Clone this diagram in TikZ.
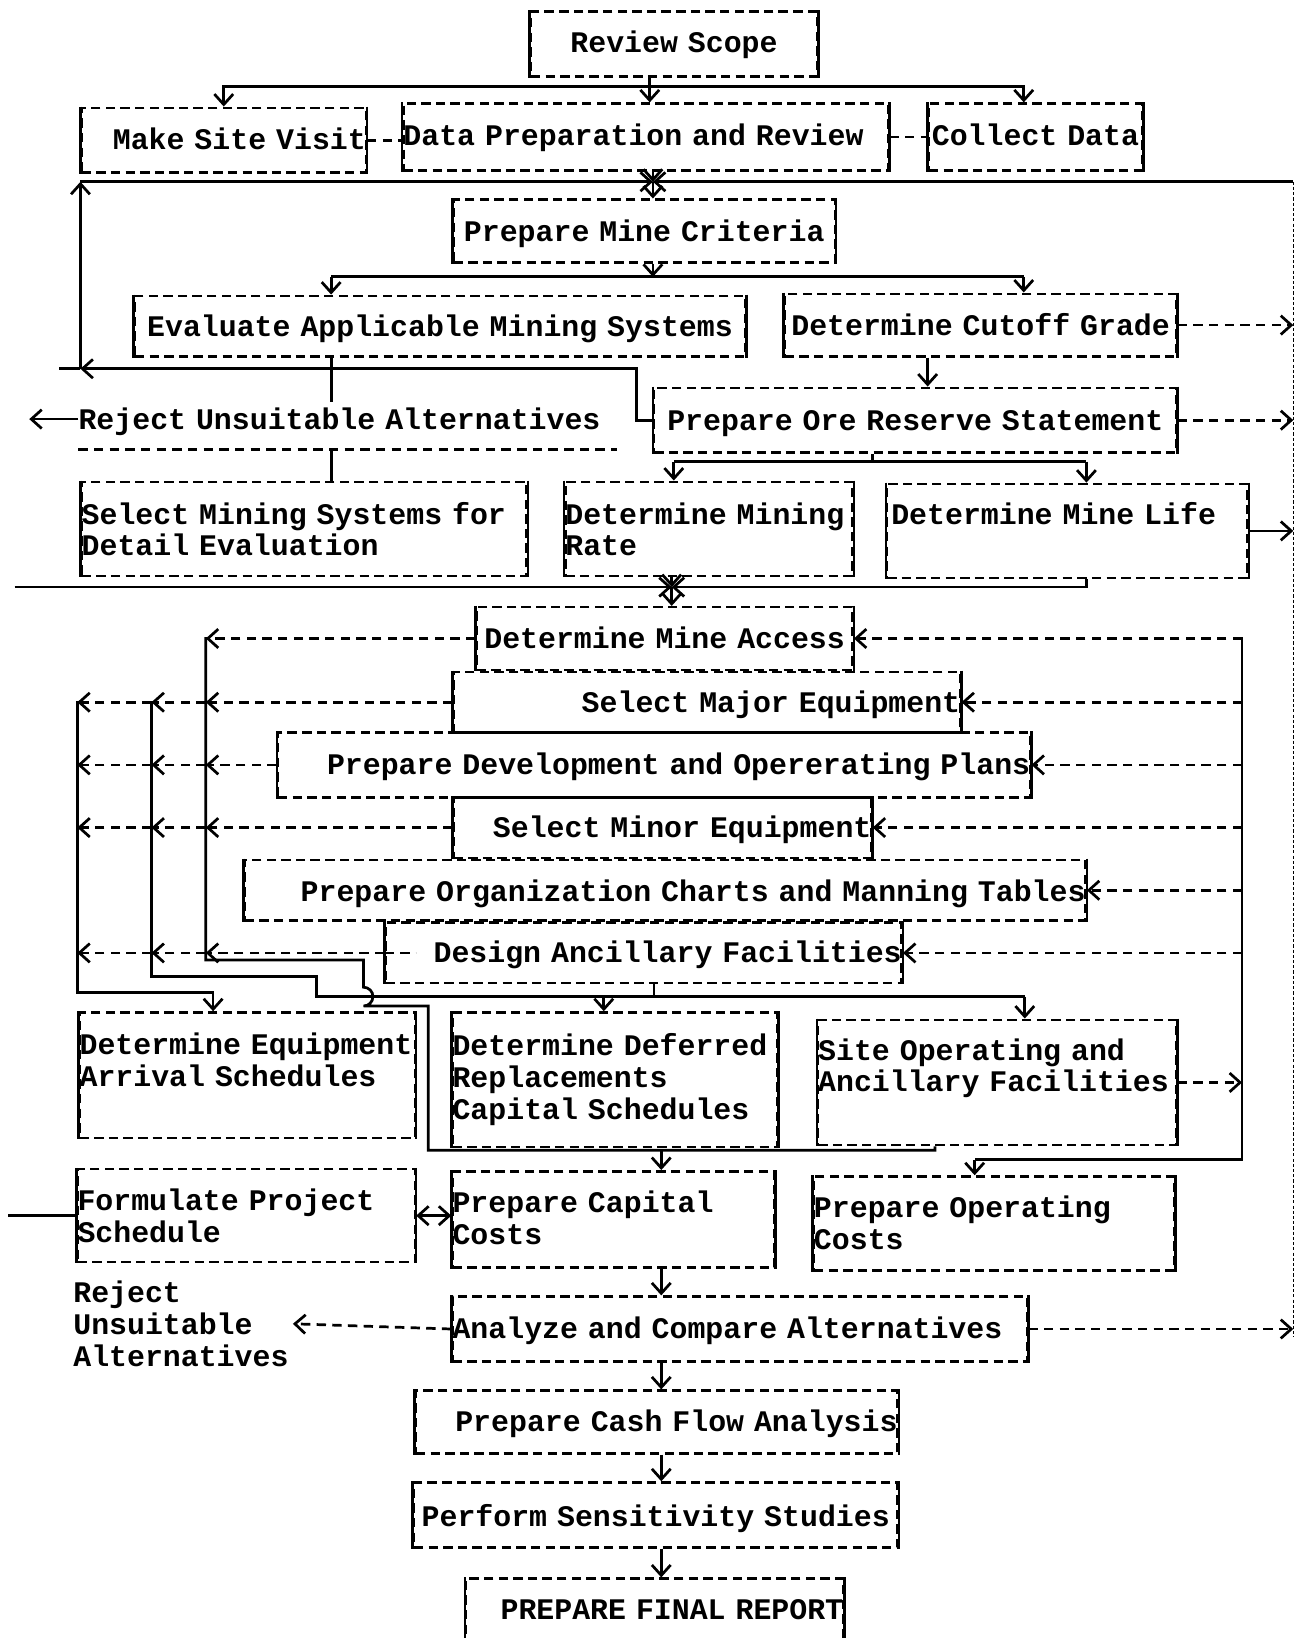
\documentclass[tikz,border=0pt]{standalone}
\usepackage{fontspec}
\newfontfamily\plotfont{Liberation Mono}
\usetikzlibrary{arrows.meta,calc,positioning}
\hyphenpenalty=10000
\exhyphenpenalty=10000

\tikzset{
  stepbox/.style n args={4}{draw, dashed, dash pattern=on 9pt off 5pt, line width=2.4pt,
    inner sep=0pt, anchor=north west, text width=#1pt, text height=#2pt, text depth=#3pt,
    align=#4, font=\plotfont\bfseries\fontsize{28.6}{30.5}\selectfont},
  plaintext/.style n args={4}{inner sep=0pt, anchor=north west, text width=#1pt,
    text height=#2pt, text depth=#3pt, align=#4, font=\plotfont\bfseries\fontsize{28.6}{30.5}\selectfont},
  side/.style={line width=2.4pt},
  link/.style={line width=2.6pt},
  dashlink/.style={link, dash pattern=on 9pt off 6pt},
  arr/.style={link, ->},
  darr/.style={dashlink, ->},
}

\begin{document}
\begin{tikzpicture}[x=1pt, y=-1pt, >={Straight Barb[length=10pt,width=18pt]}]
  \fill[white] (0,0) rectangle (1241,1568);
  \useasboundingbox (0,0) rectangle (1241,1568);

  % boxes
  \node[stepbox={274}{39.5}{22.5}{center}] (scope) at (507,10) {Review~Scope};
  \node[stepbox={272}{39.5}{22.5}{right}] (visit) at (77,102) {Make~Site~Visit};
  \node[stepbox={464}{40.5}{23.5}{left}] (prep) at (385,98) {Data~Preparation~and~Review};
  \node[stepbox={204}{40.5}{23.5}{center}] (collect) at (888,98) {Collect~Data};
  \node[stepbox={365}{39.5}{20.5}{center}] (crit) at (433,190) {Prepare~Mine~Criteria};
  \node[stepbox={584}{38.5}{19.5}{center}] (eval) at (128,282) {Evaluate~Applicable~Mining~Systems};
  \node[stepbox={375}{39.5}{20.5}{center}] (cutoff) at (750,280) {Determine~Cutoff~Grade};
  \node[plaintext={515}{38.5}{19.5}{left}] (rej1) at (75,372) {Reject~Unsuitable~Alternatives};
  \node[stepbox={500}{40.5}{21.5}{center}] (ore) at (625,370) {Prepare~Ore~Reserve~Statement};
  \node[stepbox={426}{40.5}{49.5}{left}] (select) at (77,460) {Select~Mining~Systems~for\\Detail~Evaluation};
  \node[stepbox={275}{40.5}{49.5}{left}] (rate) at (540,460) {Determine~Mining\\Rate};
  \node[stepbox={345}{38.5}{51.5}{left}] (life) at (848,462) {\hspace*{4pt}Determine~Mine~Life};
  \node[stepbox={360}{39.5}{20.5}{center}] (access) at (455,580) {Determine~Mine~Access};
  \node[stepbox={485}{38.5}{19.5}{right}] (major) at (433,642) {Select~Major~Equipment};
  \node[stepbox={720}{40.5}{21.5}{right}] (dev) at (265,700) {Prepare~Development~and~Opererating~Plans};
  \node[stepbox={400}{38.5}{19.5}{right}] (minor) at (433,762) {Select~Minor~Equipment};
  \node[stepbox={805}{39.5}{18.5}{right}] (org) at (233,822) {Prepare~Organization~Charts~and~Manning~Tables};
  \node[stepbox={494}{38.5}{19.5}{right}] (anc) at (368,882) {Design~Ancillary~Facilities};
  \node[stepbox={321}{40.5}{79.5}{left}] (arrive) at (75,968) {Determine~Equipment\\Arrival~Schedules};
  \node[stepbox={311}{41.5}{87.5}{left}] (defer) at (432,968) {Determine~Deferred\\Replacements\\Capital~Schedules};
  \node[stepbox={343}{38.5}{81.5}{left}] (site) at (782,975) {Site~Operating~and\\Ancillary~Facilities};
  \node[stepbox={323}{39.5}{49.5}{left}] (sched) at (73,1118) {Formulate~Project\\Schedule};
  \node[stepbox={308}{39.5}{52.5}{left}] (capcost) at (432,1120) {Prepare~Capital\\Costs};
  \node[stepbox={345}{39.5}{50.5}{left}] (opcost) at (778,1125) {Prepare~Operating\\Costs};
  \node[plaintext={210}{26.5}{67.5}{left}] (rej2) at (70,1220) {Reject\\Unsuitable\\Alternatives};
  \node[stepbox={550}{40.5}{21.5}{left}] (analyze) at (432,1240) {Analyze~and~Compare~Alternatives};
  \node[stepbox={461}{39.5}{20.5}{right}] (cash) at (397,1330) {Prepare~Cash~Flow~Analysis};
  \node[stepbox={463}{42.5}{19.5}{center}] (sens) at (395,1418) {Perform~Sensitivity~Studies};
  \node[stepbox={361}{39.5}{20.5}{right}] (report) at (445,1510) {PREPARE~FINAL~REPORT};

  \foreach \n in {scope,visit,prep,collect,crit,eval,cutoff,ore,select,rate,life,access,major,dev,minor,org,anc,arrive,defer,site,sched,capcost,opcost,analyze,cash,sens,report}
    \draw[side] (\n.north west) -- (\n.south west) (\n.north east) -- (\n.south east);
  \draw[dashlink] (rej1.south west) -- (rej1.south east);

  % branch points
  \coordinate (b1) at (622,83);
  \coordinate (x1) at (625,174);
  \coordinate (rt) at (1238,174);
  \coordinate (rb) at (1238,1280);
  \coordinate (j1) at (317,353);
  \coordinate (l1) at (77,353);
  \coordinate (b2) at (625,265);
  \coordinate (c1) at (980,265);
  \coordinate (c2) at (888,355);
  \coordinate (b3) at (835,442);
  \coordinate (c3) at (645,442);
  \coordinate (c4) at (1040,442);
  \coordinate (x2) at (643,562);
  \coordinate (lx) at (14,562);
  \coordinate (v1) at (197,610);
  \coordinate (v2) at (145,671);
  \coordinate (v3) at (74,671);
  \coordinate (vr) at (1189,610);
  \coordinate (e1) at (204,950);
  \coordinate (e2) at (303,935);
  \coordinate (e3) at (303,954);
  \coordinate (e4) at (981,954);
  \coordinate (e5) at (578,954);
  \coordinate (e6) at (626,954);
  \coordinate (f1) at (348,919);
  \coordinate (f2) at (410,1101);
  \coordinate (f3) at (895,1101);
  \coordinate (g1) at (633,1101);
  \coordinate (h1) at (933,1110);

  % upper part
  \draw[arr] (scope.south -| b1) -- (prep.north -| b1);
  \draw[arr] (b1) -| (visit.north);
  \draw[arr] (b1) -| (collect.north -| c1);
  \draw[dashlink] (visit.east) -- (visit.east -| prep.west);
  \draw[dashlink] (prep.east) -- (prep.east -| collect.west);
  \draw[arr] (prep.south -| x1) -- (x1);
  \draw[arr] (l1) -- (l1 |- x1);
  \draw[arr] (l1 |- x1) -- (x1);
  \draw[arr] (rt) -- (x1);
  \draw[line width=1pt, densely dashed] (rt) -- (rb);
  \draw[arr] (x1) -- (crit.north -| x1);
  \draw[arr] (crit.south -| b2) -- (b2);
  \draw[link] (j1 |- b2) -- (c1);
  \draw[arr] (j1 |- b2) -- (eval.north -| j1);
  \draw[arr] (c1) -- (cutoff.north -| c1);
  \draw[darr] (cutoff.east) -- (cutoff.east -| rt);
  \draw[arr] (cutoff.south -| c2) -- (ore.north -| c2);
  \draw[link] (eval.south -| j1) -- ($(rej1.north -| j1)+(0,13)$);
  \draw[arr] (j1) -- (l1);
  \draw[link] (l1) -- +(-21,0);
  \draw[link] (j1) -| ($(ore.west)+(-16,0)$) -- (ore.west);
  \draw[link] (rej1.south -| j1) -- (select.north -| j1);
  \draw[arr] (rej1.west) -- +(-47,0);
  \draw[darr] (ore.east) -- (ore.east -| rt);
  \draw[link] (ore.south -| b3) -- (b3);
  \draw[link] (c3) -- (c4);
  \draw[arr] (c3) -- (rate.north -| c3);
  \draw[arr] (c4) -- (life.north -| c4);
  \draw[arr] (life.east) -- (life.east -| rt);
  \draw[arr] (rate.south -| x2) -- (x2);
  \draw[arr] (lx) -- (x2);
  \draw[arr] (life.south -| c4) |- (x2);
  \draw[arr] (x2) -- (access.north -| x2);

  % middle part
  \draw[darr] (access.west) -- (access.west -| v1);
  \draw[darr] (access.east -| vr) -- (access.east);
  \draw[dashlink] (anc.west) -- +(30,0);
  \foreach \n in {major,dev,minor,anc}{
    \draw[darr] (\n.west) -- (\n.west -| v1);
    \draw[darr] (\n.west -| v1) -- (\n.west -| v2);
    \draw[darr] (\n.west -| v2) -- (\n.west -| v3);
  }
  \foreach \n in {major,dev,minor,org,anc}
    \draw[darr] (\n.east -| vr) -- (\n.east);

  % lower part
  \draw[arr] (v3) |- (e1) -- (arrive.north -| e1);
  \draw[link] (v2) |- (e2) -- (e3) -- (e4);
  \draw[arr] (e5) -- (defer.north -| e5);
  \draw[arr] (e4) -- (site.north -| e4);
  \draw[link] (anc.south -| e6) -- (e6);
  \draw[link] (v1) |- (f1) -- (348,945) arc[start angle=90, end angle=-90, radius=9pt] -| (f2) -| (site.south -| f3);
  \draw[arr] (g1) -- (capcost.north -| g1);
  \draw[link] (vr) |- (h1);
  \draw[arr] (h1) -- (opcost.north -| h1);
  \draw[darr] (site.east) -- (site.east -| vr);
  \draw[link, <->] (sched.east) -- (sched.east -| capcost.west);
  \draw[link] (sched.west) -- +(-65,0);
  \draw[arr] (capcost.south -| g1) -- (analyze.north -| g1);
  \draw[darr] (analyze.west) -- (rej2.east);
  \draw[darr] (analyze.east) -- (analyze.east -| rt);
  \draw[arr] (analyze.south -| g1) -- (cash.north -| g1);
  \draw[arr] (cash.south -| g1) -- (sens.north -| g1);
  \draw[arr] (sens.south -| g1) -- (report.north -| g1);
\end{tikzpicture}
\end{document}
